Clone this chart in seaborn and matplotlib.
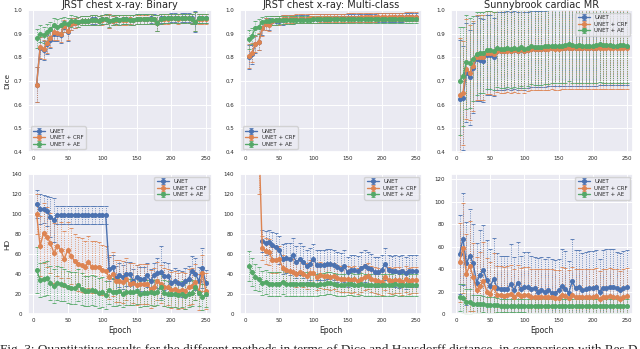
import numpy as np
import matplotlib
matplotlib.use('Agg')
import matplotlib.pyplot as plt
import seaborn as sns

# ------------------
# DATA
# ------------------
epochs = [5, 10, 15, 20, 25, 30, 35, 40, 45, 50, 55, 60, 65, 70, 75, 80, 85, 90, 95, 100,
          105, 110, 115, 120, 125, 130, 135, 140, 145, 150, 155, 160, 165, 170, 175, 180, 185, 190, 195, 200,
          205, 210, 215, 220, 225, 230, 235, 240, 245, 250]
methods = ["UNET", "UNET + CRF", "UNET + AE"]
titles = ["JRST chest x-ray: Binary", "JRST chest x-ray: Multi-class", "Sunnybrook cardiac MR"]

# Dice - JRST binary
bin_dice_unet = [.685, .840, .830, .855, .875, .900, .900, .895, .930, .905, .940, .945, .950, .955, .955, .955, .960, .960, .955, .960,
                 .962, .955, .955, .960, .958, .960, .960, .960, .958, .962, .962, .962, .962, .965, .962, .945, .965, .965, .965, .968,
                 .968, .965, .968, .968, .968, .965, .950, .965, .965, .965]
bin_dice_crf = [.685, .842, .835, .860, .880, .905, .902, .900, .932, .910, .942, .946, .950, .955, .955, .955, .958, .958, .955, .958,
                .960, .955, .955, .958, .958, .958, .958, .960, .958, .960, .960, .960, .960, .962, .960, .945, .962, .962, .962, .965,
                .965, .962, .965, .965, .965, .962, .950, .962, .962, .962]
bin_dice_ae = [.880, .900, .895, .905, .920, .935, .930, .935, .945, .940, .955, .955, .950, .955, .955, .955, .958, .958, .955, .960,
               .962, .955, .958, .960, .958, .960, .960, .958, .958, .962, .962, .962, .962, .962, .960, .945, .962, .965, .965, .965,
               .965, .965, .965, .965, .965, .962, .950, .965, .965, .965]
bin_dice_err_unet = [.075, .045, .040, .040, .035, .030, .030, .035, .025, .035, .025, .020, .020, .020, .020, .020, .020, .020, .020, .020,
                     .020, .030, .020, .020, .020, .020, .020, .020, .020, .020, .020, .020, .020, .020, .020, .035, .020, .020, .020, .020,
                     .020, .020, .020, .020, .020, .020, .045, .020, .020, .020]
bin_dice_err_crf = [.075, .045, .040, .040, .035, .030, .030, .035, .025, .035, .025, .020, .020, .020, .020, .020, .020, .020, .020, .020,
                    .020, .030, .020, .020, .020, .020, .020, .020, .020, .020, .020, .020, .020, .020, .020, .035, .020, .020, .020, .020,
                    .020, .020, .020, .020, .020, .020, .040, .020, .020, .020]
bin_dice_err_ae = [.040, .035, .035, .035, .030, .030, .030, .030, .025, .025, .025, .020, .020, .020, .020, .020, .020, .020, .020, .020,
                   .020, .025, .020, .020, .020, .020, .020, .020, .020, .020, .020, .020, .020, .020, .020, .035, .020, .020, .020, .020,
                   .020, .020, .020, .020, .020, .020, .040, .020, .020, .020]

# Dice - JRST multi-class
mc_dice_unet = [.800, .812, .855, .865, .925, .940, .940, .955, .955, .955, .958, .960, .960, .960, .962, .962, .962, .962, .963, .963,
                .963, .964, .964, .964, .964, .965, .965, .965, .965, .966, .966, .966, .966, .967, .967, .967, .967, .967, .968, .968,
                .968, .968, .968, .969, .969, .969, .970, .970, .970, .970]
mc_dice_crf = [.805, .820, .857, .866, .922, .942, .938, .955, .956, .956, .960, .962, .962, .962, .963, .963, .964, .964, .965, .965,
               .965, .966, .966, .966, .966, .967, .967, .967, .967, .968, .968, .968, .968, .969, .969, .969, .969, .969, .970, .970,
               .970, .970, .970, .971, .971, .971, .972, .972, .972, .972]
mc_dice_ae = [.877, .890, .925, .930, .950, .953, .955, .956, .956, .957, .958, .958, .958, .958, .959, .959, .959, .959, .959, .960,
              .960, .960, .960, .960, .960, .960, .960, .960, .960, .960, .960, .960, .960, .960, .960, .960, .960, .960, .960, .960,
              .960, .960, .960, .960, .960, .960, .960, .960, .960, .960]
mc_dice_err_unet = [.050, .040, .035, .035, .030, .025, .025, .020, .020, .020, .020, .018, .018, .018, .018, .018, .018, .018, .018, .018,
                    .018, .018, .018, .018, .018, .018, .018, .018, .018, .018, .018, .018, .018, .018, .018, .018, .018, .018, .018, .018,
                    .018, .018, .018, .018, .018, .018, .018, .018, .018, .018]
mc_dice_err_crf = [.050, .040, .035, .035, .030, .025, .025, .020, .020, .020, .020, .018, .018, .018, .018, .018, .018, .018, .018, .018,
                   .018, .018, .018, .018, .018, .018, .018, .018, .018, .018, .018, .018, .018, .018, .018, .018, .018, .018, .018, .018,
                   .018, .018, .018, .018, .018, .018, .018, .018, .018, .018]
mc_dice_err_ae = [.040, .035, .030, .030, .022, .020, .020, .020, .018, .018, .018, .016, .016, .016, .016, .016, .016, .016, .016, .016,
                  .016, .016, .016, .016, .016, .016, .016, .016, .016, .016, .016, .016, .016, .016, .016, .016, .016, .016, .016, .016,
                  .016, .016, .016, .016, .016, .016, .016, .016, .016, .016]

# Dice - Sunnybrook
sb_dice_unet = [.625, .630, .735, .715, .755, .795, .790, .785, .810, .810, .800, .825, .825, .825, .830, .825, .830, .825, .835, .825,
                .830, .835, .835, .835, .835, .835, .838, .838, .838, .838, .838, .840, .840, .838, .838, .840, .840, .840, .840, .840,
                .840, .842, .842, .842, .842, .842, .842, .842, .842, .842]
sb_dice_crf = [.640, .650, .750, .735, .765, .800, .800, .800, .820, .820, .815, .828, .825, .825, .828, .825, .830, .825, .835, .825,
               .830, .835, .835, .835, .835, .835, .835, .838, .835, .835, .838, .838, .840, .838, .838, .840, .838, .838, .840, .840,
               .840, .838, .838, .840, .840, .838, .838, .840, .838, .840]
sb_dice_ae = [.700, .720, .780, .775, .795, .815, .820, .820, .830, .830, .825, .840, .835, .835, .838, .835, .840, .835, .845, .835,
              .840, .848, .845, .845, .845, .848, .848, .850, .850, .850, .850, .852, .858, .852, .850, .852, .850, .850, .850, .850,
              .852, .855, .852, .852, .852, .850, .850, .852, .852, .850]
sb_dice_err_unet = [.250, .220, .210, .200, .190, .180, .175, .175, .170, .170, .165, .165, .165, .165, .165, .165, .165, .165, .165, .165,
                    .160, .160, .160, .160, .160, .160, .160, .160, .160, .160, .160, .160, .160, .160, .160, .160, .160, .160, .160, .160,
                    .160, .160, .160, .160, .160, .160, .160, .160, .160, .160]
sb_dice_err_crf = [.240, .220, .210, .200, .190, .180, .180, .180, .175, .175, .175, .175, .175, .175, .175, .175, .175, .175, .175, .175,
                   .172, .172, .172, .172, .172, .172, .172, .172, .172, .172, .172, .172, .172, .172, .172, .172, .172, .172, .172, .172,
                   .172, .172, .172, .172, .172, .172, .172, .172, .172, .172]
sb_dice_err_ae = [.230, .210, .200, .190, .180, .175, .170, .170, .165, .165, .165, .165, .165, .165, .165, .165, .165, .165, .165, .165,
                  .160, .160, .160, .160, .160, .160, .160, .160, .160, .160, .160, .160, .160, .160, .160, .160, .160, .160, .160, .160,
                  .160, .160, .160, .160, .160, .160, .160, .160, .160, .160]

# HD - JRST binary
bin_hd_unet = [110, 105, 105, 103, 97, 94, 99, 99, 99, 99, 99, 99, 99, 99, 99, 99, 99, 99, 99, 99,
               99, 45, 47, 36, 39, 37, 40, 40, 33, 37, 35, 35, 39, 33, 39, 41, 42, 38, 38, 31,
               33, 31, 30, 33, 35, 43, 40, 33, 46, 31]
bin_hd_crf = [100, 68, 81, 77, 71, 61, 68, 64, 55, 64, 58, 53, 50, 49, 47, 52, 47, 47, 47, 44,
              43, 37, 40, 33, 33, 32, 35, 30, 31, 29, 30, 30, 30, 25, 27, 33, 30, 27, 27, 24,
              25, 23, 24, 23, 27, 28, 32, 22, 41, 23]
bin_hd_ae = [44, 34, 35, 36, 31, 28, 31, 30, 29, 27, 26, 26, 29, 25, 23, 23, 24, 23, 21, 22,
             19, 24, 22, 22, 23, 20, 22, 22, 22, 23, 20, 21, 21, 22, 21, 22, 27, 21, 20, 20,
             20, 19, 20, 18, 20, 21, 27, 21, 17, 20]
bin_hd_err_unet = [14, 15, 14, 15, 20, 22, 9, 9, 9, 9, 9, 9, 9, 9, 9, 9, 9, 9, 9, 9,
                   9, 12, 12, 12, 12, 12, 12, 12, 12, 12, 12, 12, 12, 12, 12, 15, 26, 14, 13, 13,
                   13, 13, 13, 13, 13, 15, 16, 14, 20, 13]
bin_hd_err_crf = [20, 30, 30, 30, 30, 30, 30, 28, 28, 28, 28, 27, 27, 27, 26, 26, 26, 26, 25, 25,
                  25, 22, 22, 21, 21, 21, 21, 21, 20, 20, 20, 20, 20, 19, 19, 19, 19, 19, 18, 18,
                  18, 18, 18, 18, 18, 18, 18, 18, 18, 18]
bin_hd_err_ae = [23, 17, 17, 17, 17, 17, 17, 17, 16, 16, 16, 16, 16, 16, 15, 15, 15, 15, 15, 15,
                 14, 14, 14, 14, 14, 13, 13, 13, 13, 13, 13, 13, 13, 13, 13, 13, 13, 13, 13, 13,
                 13, 13, 13, 13, 13, 13, 13, 13, 13, 13]

# HD - JRST multi-class (UNET has no value before epoch 25)
nan = float("nan")
mc_hd_unet = [nan, nan, nan, nan, 73, 71, 72, 69, 67, 64, 55, 56, 55, 59, 52, 55, 52, 48, 50, 55,
              49, 49, 49, 50, 50, 49, 47, 45, 48, 42, 44, 44, 43, 46, 48, 46, 45, 42, 42, 44,
              50, 44, 43, 43, 42, 43, 41, 43, 43, 43]
mc_hd_crf = [400, 300, 240, 180, 66, 63, 62, 54, 54, 55, 46, 44, 43, 42, 40, 42, 40, 38, 41, 41,
             37, 39, 38, 38, 37, 38, 36, 35, 35, 35, 34, 35, 33, 35, 37, 38, 35, 34, 33, 32,
             37, 34, 33, 34, 34, 32, 35, 33, 34, 34]
mc_hd_ae = [48, 42, 37, 35, 31, 32, 30, 30, 30, 30, 32, 30, 30, 30, 30, 30, 30, 30, 30, 30,
            29, 30, 30, 31, 31, 30, 29, 29, 29, 30, 30, 29, 29, 30, 29, 29, 29, 29, 29, 29,
            29, 29, 29, 30, 29, 29, 29, 29, 29, 29]
mc_hd_err_unet = [0, 0, 0, 0, 11, 12, 12, 13, 14, 14, 15, 15, 16, 17, 16, 16, 16, 16, 16, 15,
                  15, 15, 15, 15, 15, 15, 15, 16, 16, 15, 15, 15, 15, 16, 16, 16, 15, 15, 15, 15,
                  16, 15, 15, 16, 16, 16, 16, 16, 16, 16]
mc_hd_err_crf = [60, 60, 60, 60, 12, 13, 13, 13, 13, 13, 13, 13, 13, 13, 13, 13, 13, 13, 13, 13,
                 13, 13, 13, 13, 13, 13, 13, 13, 13, 13, 13, 13, 13, 13, 13, 13, 13, 13, 13, 13,
                 13, 13, 13, 13, 13, 13, 13, 13, 13, 13]
mc_hd_err_ae = [15, 14, 13, 12, 12, 12, 12, 12, 12, 12, 12, 12, 12, 12, 12, 12, 12, 12, 12, 12,
                11, 11, 11, 11, 11, 11, 11, 11, 11, 11, 11, 11, 11, 11, 11, 11, 11, 11, 11, 11,
                11, 11, 11, 11, 11, 11, 11, 11, 11, 11]

# HD - Sunnybrook
sb_hd_unet = [53, 67, 45, 52, 45, 28, 35, 39, 30, 25, 31, 23, 22, 22, 22, 27, 21, 28, 22, 24,
              24, 22, 23, 20, 21, 20, 21, 19, 19, 21, 25, 22, 19, 29, 23, 24, 21, 22, 23, 23,
              24, 20, 23, 23, 24, 24, 23, 21, 23, 24]
sb_hd_crf = [46, 59, 36, 43, 33, 21, 25, 29, 20, 18, 24, 17, 17, 16, 17, 18, 15, 18, 16, 17,
             17, 15, 15, 15, 15, 15, 15, 15, 14, 14, 17, 16, 14, 17, 15, 15, 15, 15, 15, 15,
             16, 13, 15, 15, 16, 15, 15, 13, 15, 16]
sb_hd_ae = [15, 14, 11, 11, 9, 9, 9, 9, 8, 8, 8, 8, 7.5, 7.5, 7.5, 7.5, 7.5, 7.5, 7.5, 7.5,
            7, 7, 7, 7, 7, 7, 7, 7, 7, 7, 7, 7, 7, 7, 7, 7, 7, 7, 7, 7,
            7, 7, 7, 7, 7, 7, 7, 7, 7, 7]
sb_hd_err_unet = [35, 41, 37, 41, 35, 35, 40, 40, 36, 33, 37, 31, 30, 30, 30, 35, 30, 36, 30, 31,
                  31, 30, 28, 30, 30, 29, 30, 30, 29, 28, 33, 34, 28, 38, 34, 33, 33, 33, 33, 33,
                  33, 29, 34, 35, 34, 34, 32, 33, 33, 33]
sb_hd_err_crf = [35, 40, 35, 40, 30, 30, 30, 35, 30, 28, 30, 26, 26, 26, 26, 26, 25, 26, 25, 25,
                 25, 25, 25, 25, 25, 25, 25, 25, 25, 25, 25, 25, 25, 25, 25, 25, 25, 25, 25, 25,
                 25, 25, 25, 25, 25, 25, 25, 25, 25, 25]
sb_hd_err_ae = [12, 13, 11, 11, 8, 8, 8, 7, 7, 7, 7, 6, 6, 6, 6, 6, 6, 6, 6, 6,
                6, 6, 6, 6, 6, 6, 6, 6, 6, 6, 6, 6, 6, 6, 6, 6, 6, 6, 6, 6,
                6, 6, 6, 6, 6, 6, 6, 6, 6, 6]

caption = ("Fig. 3: Quantitative results for the different methods in terms of Dice and Hausdorff distance, "
           "in comparison with Res DAE and CRF [16]. We show the mean and standard deviation per epoch.")

# ------------------
# PLOT
# ------------------
sns.set_theme(style="darkgrid")
colors = sns.color_palette("deep")

fig = plt.figure(figsize=(6.4, 3.49), dpi=100)
W, H = 640.0, 349.0
lefts = [28, 240, 451]
widths = [184, 182, 182]
rows = [(10, 152), (174, 314)]

panels = [
    [(bin_dice_unet, bin_dice_err_unet), (bin_dice_crf, bin_dice_err_crf), (bin_dice_ae, bin_dice_err_ae)],
    [(mc_dice_unet, mc_dice_err_unet), (mc_dice_crf, mc_dice_err_crf), (mc_dice_ae, mc_dice_err_ae)],
    [(sb_dice_unet, sb_dice_err_unet), (sb_dice_crf, sb_dice_err_crf), (sb_dice_ae, sb_dice_err_ae)],
    [(bin_hd_unet, bin_hd_err_unet), (bin_hd_crf, bin_hd_err_crf), (bin_hd_ae, bin_hd_err_ae)],
    [(mc_hd_unet, mc_hd_err_unet), (mc_hd_crf, mc_hd_err_crf), (mc_hd_ae, mc_hd_err_ae)],
    [(sb_hd_unet, sb_hd_err_unet), (sb_hd_crf, sb_hd_err_crf), (sb_hd_ae, sb_hd_err_ae)],
]
ylims = [(0.4, 1.0), (0.4, 1.0), (0.4, 1.0), (0, 140), (0, 140), (0, 124.5)]
legend_locs = ["lower left", "lower left", "upper right", "upper right", "upper right", "upper right"]

for i, series in enumerate(panels):
    r, c = divmod(i, 3)
    top, bottom = rows[r]
    ax = fig.add_axes([lefts[c] / W, 1 - bottom / H, widths[c] / W, (bottom - top) / H])
    for k, (vals, errs) in enumerate(series):
        eb = ax.errorbar(epochs, vals, yerr=errs, fmt='-o', color=colors[k], ms=2.6, lw=1.0,
                         elinewidth=0.6, capsize=1.4, capthick=0.6, label=methods[k])
        eb[-1][0].set_linestyle(':')
    ax.set_ylim(*ylims[i])
    ax.set_xlim(-7.5, 259)
    ax.set_xticks([0, 50, 100, 150, 200, 250])
    if r == 0:
        ax.set_yticks([0.4, 0.5, 0.6, 0.7, 0.8, 0.9, 1.0])
        ax.set_title(titles[c], fontsize=7, pad=1.5)
    else:
        ax.set_yticks(list(range(0, int(ylims[i][1]) + 1, 20)))
        ax.set_xlabel("Epoch", fontsize=5.5, labelpad=2)
    ax.tick_params(axis="x", labelsize=4.0, length=0, pad=3.0)
    ax.tick_params(axis="y", labelsize=4.0, length=0, pad=4.3)
    ax.grid(lw=0.7)
    ax.legend(loc=legend_locs[i], fontsize=4, handlelength=2.2, borderpad=0.4, labelspacing=0.3)
    if i == 0:
        ax.set_ylabel("Dice", fontsize=5.2)
        ax.yaxis.set_label_coords(-0.095, 0.5)
    if i == 3:
        ax.set_ylabel("HD", fontsize=5.2)
        ax.yaxis.set_label_coords(-0.095, 0.5)

fig.text(0.0, -0.012, caption, fontsize=9.5, family="Liberation Serif", ha="left", va="baseline")

plt.savefig("out.png", dpi=100)
